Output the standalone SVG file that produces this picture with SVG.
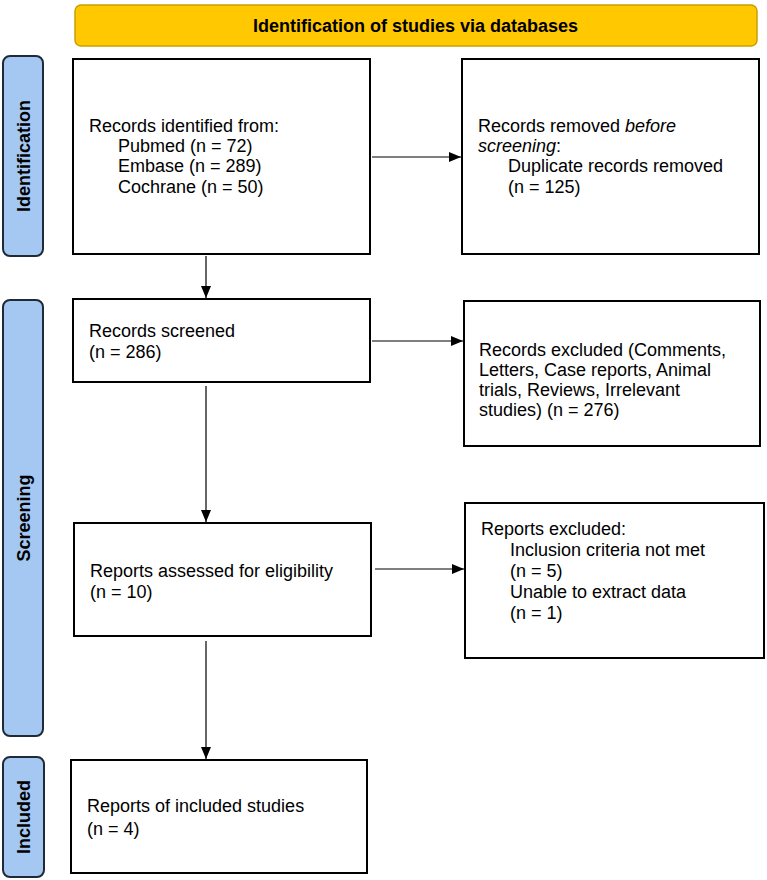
<svg xmlns="http://www.w3.org/2000/svg" width="767" height="880" viewBox="0 0 767 880">
<style>
text{font-family:"Liberation Sans",Arial,sans-serif;font-size:18px;fill:#000}
.box{fill:#fff;stroke:#000;stroke-width:2}
.side{fill:#A4C8F2;stroke:#1f2a36;stroke-width:2}
.lbl{font-weight:bold}
.con{stroke:#000;stroke-width:1.2;fill:none}
</style>
<defs>
<marker id="ah" viewBox="0 0 12 10" refX="12" refY="5" markerWidth="12" markerHeight="10" markerUnits="userSpaceOnUse" orient="auto">
<path d="M0,0 L12,5 L0,10 z" fill="#000"/>
</marker>
</defs>
<rect width="767" height="880" fill="#fff"/>
<g id="banner">
<rect x="75" y="5" width="682" height="41" rx="6" fill="#FFC800" stroke="#C9A000" stroke-width="1.5"/>
<text class="lbl" x="415.5" y="32" text-anchor="middle">Identification of studies via databases</text>
</g>
<g id="label-identification">
<rect class="side" x="3" y="56" width="40" height="200" rx="7"/>
<text class="lbl" transform="translate(30,156) rotate(-90)" text-anchor="middle">Identification</text>
</g>
<g id="label-screening">
<rect class="side" x="3" y="300" width="40" height="436" rx="7"/>
<text class="lbl" transform="translate(30,518) rotate(-90)" text-anchor="middle">Screening</text>
</g>
<g id="label-included">
<rect class="side" x="3" y="757" width="41" height="120" rx="7"/>
<text class="lbl" transform="translate(30,817) rotate(-90)" text-anchor="middle">Included</text>
</g>
<g id="records-identified">
<rect class="box" x="73" y="59" width="297" height="195"/>
<text x="89" y="132">Records identified from:</text>
<text x="118" y="152">Pubmed (n = 72)</text>
<text x="118" y="172">Embase (n = 289)</text>
<text x="118" y="193">Cochrane (n = 50)</text>
</g>
<g id="records-removed">
<rect class="box" x="462" y="59" width="297" height="195"/>
<text x="478" y="132">Records removed <tspan font-style="italic">before</tspan></text>
<text x="478" y="152"><tspan font-style="italic">screening</tspan>:</text>
<text x="508" y="172">Duplicate records removed</text>
<text x="508" y="193">(n = 125)</text>
</g>
<g id="records-screened">
<rect class="box" x="73" y="299" width="297" height="83"/>
<text x="89" y="337">Records screened</text>
<text x="89" y="358">(n = 286)</text>
</g>
<g id="records-excluded">
<rect class="box" x="464" y="301" width="296" height="145"/>
<text x="479" y="356">Records excluded (Comments,</text>
<text x="479" y="376">Letters, Case reports, Animal</text>
<text x="479" y="396">trials, Reviews, Irrelevant</text>
<text x="479" y="416">studies) (n = 276)</text>
</g>
<g id="reports-assessed">
<rect class="box" x="74" y="523" width="297" height="113"/>
<text x="90" y="577">Reports assessed for eligibility</text>
<text x="90" y="598">(n = 10)</text>
</g>
<g id="reports-excluded">
<rect class="box" x="465" y="503" width="299" height="155"/>
<text x="481" y="535">Reports excluded:</text>
<text x="510" y="556">Inclusion criteria not met</text>
<text x="510" y="577">(n = 5)</text>
<text x="510" y="598">Unable to extract data</text>
<text x="510" y="619">(n = 1)</text>
</g>
<g id="included-studies">
<rect class="box" x="71" y="760" width="296" height="113"/>
<text x="87" y="812">Reports of included studies</text>
<text x="87" y="835">(n = 4)</text>
</g>
<g id="connectors">
<line class="con" x1="372" y1="157" x2="461" y2="157" marker-end="url(#ah)"/>
<line class="con" x1="206" y1="256" x2="206" y2="298" marker-end="url(#ah)"/>
<line class="con" x1="372" y1="341" x2="463" y2="341" marker-end="url(#ah)"/>
<line class="con" x1="206" y1="386" x2="206" y2="522" marker-end="url(#ah)"/>
<line class="con" x1="375" y1="569" x2="464" y2="569" marker-end="url(#ah)"/>
<line class="con" x1="206" y1="641" x2="206" y2="759" marker-end="url(#ah)"/>
</g>
</svg>
